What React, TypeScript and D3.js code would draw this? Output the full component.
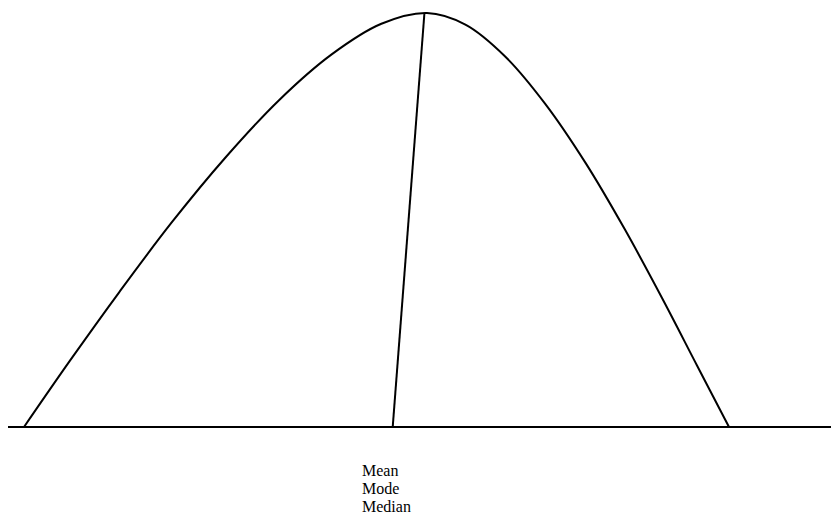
import React from "react";
import * as d3 from "d3";

// Skewed distribution curve: position along the axis (0–10) and relative density (0–1)
const curveX = [
  0, 0.647, 1.352, 2.095, 2.858, 3.621, 4.364, 5.069, 5.716,
  6.261, 6.825, 7.396, 7.965, 8.52, 9.052, 9.548, 10,
];
const curveY = [
  0, 0.159, 0.326, 0.494, 0.651, 0.79, 0.9, 0.974, 1.0,
  0.972, 0.895, 0.78, 0.638, 0.478, 0.311, 0.148, 0,
];

// Marker line from the axis up to the peak
const markerX = [5.23, 5.68];
const markerY = [0, 1.0];

const labels = ["Mean", "Mode", "Median"];

const W = 831;
const H = 529;

export default function App() {
  const x = d3.scaleLinear().domain([0, 10]).range([24, 729]);
  const y = d3.scaleLinear().domain([0, 1]).range([427, 13]);

  const pts: [number, number][] = curveX.map((v, i) => [v, curveY[i]]);
  const line = d3
    .line<[number, number]>()
    .x((d) => x(d[0]))
    .y((d) => y(d[1]))
    .curve(d3.curveCatmullRom.alpha(0.5));

  const axisStart = x.invert(8);
  const axisEnd = x.invert(W);

  return (
    <svg
      width={W}
      height={H}
      style={{ position: "absolute", left: 0, top: 0, background: "#fff" }}
    >
      <line
        x1={x(axisStart)}
        x2={x(axisEnd)}
        y1={y(0)}
        y2={y(0)}
        stroke="#000"
        strokeWidth={2}
      />
      <path d={line(pts) || ""} fill="none" stroke="#000" strokeWidth={2} />
      <line
        x1={x(markerX[0])}
        y1={y(markerY[0])}
        x2={x(markerX[1])}
        y2={y(markerY[1])}
        stroke="#000"
        strokeWidth={2}
      />
      {labels.map((t, i) => (
        <text
          key={t}
          x={362}
          y={476 + i * 18}
          fontFamily="'Liberation Serif', 'Times New Roman', serif"
          fontSize={16}
          fill="#000"
        >
          {t}
        </text>
      ))}
    </svg>
  );
}
